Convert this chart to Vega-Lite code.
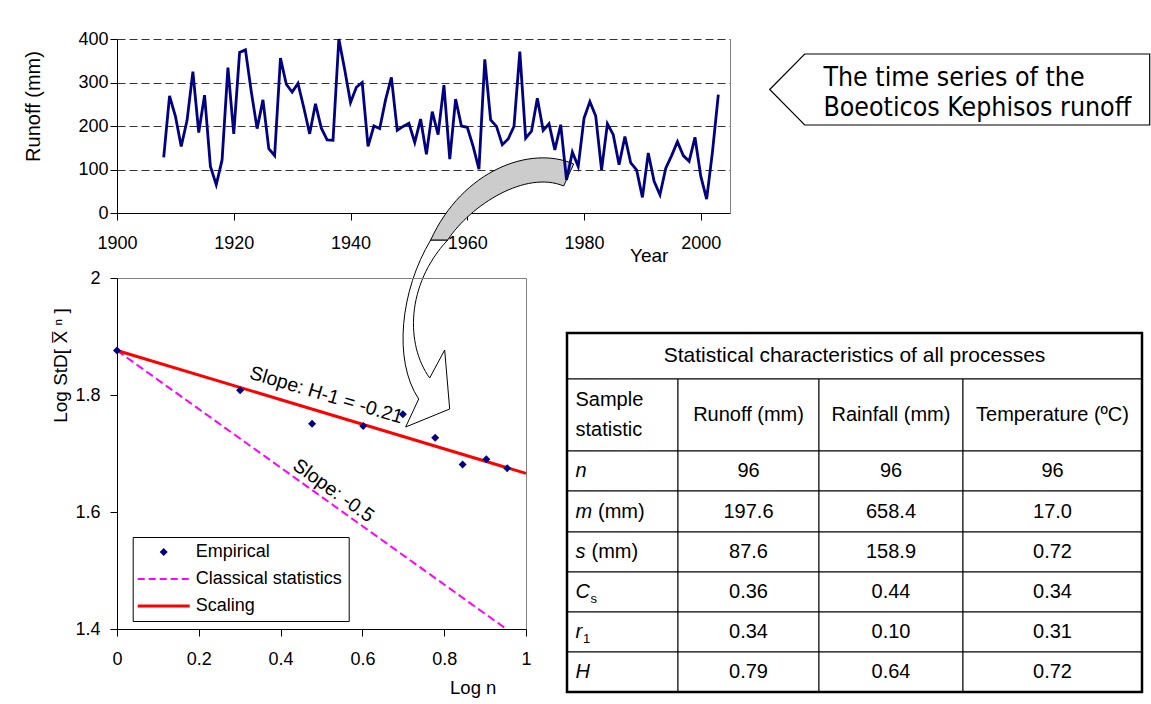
{
  "$schema": "https://vega.github.io/schema/vega-lite/v6.json",
  "background": "white",
  "padding": {"left": 23, "top": 30, "right": 2, "bottom": 2},
  "columns": 2,
  "spacing": {"row": 65, "column": 41},
  "bounds": "flush",
  "align": "none",
  "resolve": {"scale": {"color": "independent"}, "legend": {"color": "independent"}},
  "config": {
    "font": "Liberation Sans",
    "view": {"stroke": null},
    "axis": {"labelFont": "Liberation Sans", "titleFont": "Liberation Sans", "labelFontSize": 18, "titleFontSize": 19, "titleFontWeight": "normal", "labelColor": "#000", "titleColor": "#000", "domainColor": "#000", "tickColor": "#000", "tickSize": 7, "grid": false, "labelOverlap": false, "labelFlush": false},
    "text": {"font": "Liberation Sans", "color": "#000"}
  },
  "concat": [
    {
      "width": 613, "height": 174,
      "view": {"stroke": null},
      "resolve": {"axis": {"y": "independent"}},
      "layer": [
        {
          "data": {"values": [{}]},
          "mark": {"type": "point", "shape": "M-36.6,27C-66.6,77,-74.6,147,-48.6,186L-61.6,214L-17.6,196L-22.6,137L-37.6,165C-61.6,132,-61.6,72,-19.6,27Z", "size": 4, "filled": true, "fill": "#ffffff", "stroke": "#000000", "strokeWidth": 1, "opacity": 1},
          "encoding": {
            "x": {"datum": 1960, "type": "quantitative", "title": "Year"},
            "y": {"datum": 0, "type": "quantitative", "axis": null}
          }
        },
        {
          "data": {"values": [{}]},
          "mark": {"type": "point", "shape": "M106.4,-49C63.4,-68,-4.6,-43,-36.6,27L-19.6,27C3.4,-8,58.4,-43,96.4,-27Z", "size": 4, "filled": true, "fill": "#cccccc", "stroke": "#000000", "strokeWidth": 1, "opacity": 1},
          "encoding": {
            "x": {"datum": 1960, "type": "quantitative", "title": "Year"},
            "y": {"datum": 0, "type": "quantitative", "axis": {"orient": "right", "labels": false, "ticks": false, "grid": false, "domainColor": "#808080", "title": null}}
          }
        },
        {
          "data": {"values": [
            {"year": 1908, "runoff": 128}, {"year": 1909, "runoff": 269}, {"year": 1910, "runoff": 223}, {"year": 1911, "runoff": 153}, {"year": 1912, "runoff": 213},
            {"year": 1913, "runoff": 325}, {"year": 1914, "runoff": 185}, {"year": 1915, "runoff": 271}, {"year": 1916, "runoff": 107}, {"year": 1917, "runoff": 65},
            {"year": 1918, "runoff": 122}, {"year": 1919, "runoff": 334}, {"year": 1920, "runoff": 182}, {"year": 1921, "runoff": 369}, {"year": 1922, "runoff": 375},
            {"year": 1923, "runoff": 279}, {"year": 1924, "runoff": 194}, {"year": 1925, "runoff": 260}, {"year": 1926, "runoff": 148}, {"year": 1927, "runoff": 132},
            {"year": 1928, "runoff": 356}, {"year": 1929, "runoff": 296}, {"year": 1930, "runoff": 278}, {"year": 1931, "runoff": 298}, {"year": 1932, "runoff": 242},
            {"year": 1933, "runoff": 182}, {"year": 1934, "runoff": 251}, {"year": 1935, "runoff": 195}, {"year": 1936, "runoff": 168}, {"year": 1937, "runoff": 167},
            {"year": 1938, "runoff": 400}, {"year": 1939, "runoff": 330}, {"year": 1940, "runoff": 254}, {"year": 1941, "runoff": 289}, {"year": 1942, "runoff": 300},
            {"year": 1943, "runoff": 153}, {"year": 1944, "runoff": 200}, {"year": 1945, "runoff": 194}, {"year": 1946, "runoff": 260}, {"year": 1947, "runoff": 312},
            {"year": 1948, "runoff": 190}, {"year": 1949, "runoff": 199}, {"year": 1950, "runoff": 206}, {"year": 1951, "runoff": 162}, {"year": 1952, "runoff": 216},
            {"year": 1953, "runoff": 135}, {"year": 1954, "runoff": 233}, {"year": 1955, "runoff": 180}, {"year": 1956, "runoff": 294}, {"year": 1957, "runoff": 124},
            {"year": 1958, "runoff": 262}, {"year": 1959, "runoff": 200}, {"year": 1960, "runoff": 197}, {"year": 1961, "runoff": 153}, {"year": 1962, "runoff": 101},
            {"year": 1963, "runoff": 353}, {"year": 1964, "runoff": 214}, {"year": 1965, "runoff": 199}, {"year": 1966, "runoff": 157}, {"year": 1967, "runoff": 170},
            {"year": 1968, "runoff": 199}, {"year": 1969, "runoff": 371}, {"year": 1970, "runoff": 172}, {"year": 1971, "runoff": 188}, {"year": 1972, "runoff": 264},
            {"year": 1973, "runoff": 190}, {"year": 1974, "runoff": 205}, {"year": 1975, "runoff": 145}, {"year": 1976, "runoff": 203}, {"year": 1977, "runoff": 76},
            {"year": 1978, "runoff": 140}, {"year": 1979, "runoff": 107}, {"year": 1980, "runoff": 218}, {"year": 1981, "runoff": 256}, {"year": 1982, "runoff": 223},
            {"year": 1983, "runoff": 99}, {"year": 1984, "runoff": 205}, {"year": 1985, "runoff": 180}, {"year": 1986, "runoff": 111}, {"year": 1987, "runoff": 176},
            {"year": 1988, "runoff": 115}, {"year": 1989, "runoff": 99}, {"year": 1990, "runoff": 36}, {"year": 1991, "runoff": 138}, {"year": 1992, "runoff": 73},
            {"year": 1993, "runoff": 42}, {"year": 1994, "runoff": 103}, {"year": 1995, "runoff": 132}, {"year": 1996, "runoff": 164}, {"year": 1997, "runoff": 132},
            {"year": 1998, "runoff": 119}, {"year": 1999, "runoff": 174}, {"year": 2000, "runoff": 84}, {"year": 2001, "runoff": 32}, {"year": 2002, "runoff": 141},
            {"year": 2003, "runoff": 272}
          ]},
          "mark": {"type": "line", "color": "#000080", "strokeWidth": 2.8},
          "encoding": {
            "x": {"field": "year", "type": "quantitative", "title": "Year", "scale": {"domain": [1900, 2005], "nice": false, "zero": false},
                  "axis": {"values": [1900, 1920, 1940, 1960, 1980, 2000], "format": "d", "labelPadding": 14, "titleX": 531.7, "titleY": 42.7, "titleAlign": "center", "titleBaseline": "middle"}},
            "y": {"field": "runoff", "type": "quantitative", "title": "Runoff (mm)", "scale": {"domain": [0, 400], "nice": false},
                  "axis": {"values": [0, 100, 200, 300, 400], "grid": true, "gridDash": [8, 4], "gridColor": "#333333", "labelPadding": 2, "titleX": -83.8, "titleY": 67, "titleAlign": "center", "titleBaseline": "middle", "titleFontSize": 20}}
          }
        }
      ]
    },
    {
      "width": 381, "height": 174,
      "view": {"stroke": null},
      "data": {"values": [{}]},
      "layer": [
        {
          "mark": {"type": "point", "shape": "M-190,0L-155,-35.5L190,-35.5L190,35.5L-155,35.5Z", "size": 4, "filled": true, "fill": "#ffffff", "stroke": "#000000", "strokeWidth": 1.2, "opacity": 1},
          "encoding": {
            "x": {"datum": 0.4953, "type": "quantitative", "scale": {"domain": [0, 1]}, "axis": null},
            "y": {"datum": 0.7098, "type": "quantitative", "scale": {"domain": [0, 1]}, "axis": null}
          }
        },
        {
          "mark": {"type": "text", "align": "left", "baseline": "alphabetic", "fontSize": 26.5, "font": "DejaVu Sans Condensed", "lineHeight": 30.5, "color": "#000"},
          "encoding": {
            "x": {"datum": 0.1375, "type": "quantitative", "scale": {"domain": [0, 1]}, "axis": null},
            "y": {"datum": 0.7316, "type": "quantitative", "scale": {"domain": [0, 1]}, "axis": null},
            "text": {"value": ["The time series of the", "Boeoticos Kephisos runoff"]}
          }
        }
      ]
    },
    {
      "width": 409, "height": 351,
      "view": {"stroke": "#808080"},
      "layer": [
        {
          "data": {"values": [
            {"series": "Classical statistics", "logn": 0, "std": 1.876},
            {"series": "Classical statistics", "logn": 0.952, "std": 1.4}
          ]},
          "mark": {"type": "line", "strokeWidth": 2, "strokeDash": [8, 4]},
          "encoding": {
            "x": {"field": "logn", "type": "quantitative", "title": "Log n", "scale": {"domain": [0, 1], "nice": false, "zero": false},
                  "axis": {"values": [0, 0.2, 0.4, 0.6, 0.8, 1], "format": "~g", "labelPadding": 14, "titleX": 355.7, "titleY": 58, "titleAlign": "center", "titleBaseline": "middle", "titleFontSize": 18.5}},
            "y": {"field": "std", "type": "quantitative", "title": "Log StD[ X\u0305 \u207f ]", "scale": {"domain": [1.4, 2], "nice": false, "zero": false},
                  "axis": {"values": [1.4, 1.6, 1.8, 2], "format": "~g", "labelPadding": 10, "titleX": -56.3, "titleY": 87, "titleAlign": "center", "titleBaseline": "middle"}},
            "color": {"field": "series", "type": "nominal",
                      "scale": {"domain": ["Empirical", "Classical statistics", "Scaling"], "range": ["#000080", "#FF00FF", "#FF0000"]},
                      "legend": {
                        "orient": "none", "legendX": 15.7, "legendY": 259, "title": null, "padding": 6,
                        "strokeColor": "#000000", "fillColor": "#ffffff",
                        "labelFont": "Liberation Sans", "labelFontSize": 18, "labelColor": "#000000", "labelLimit": 300,
                        "symbolSize": 64, "symbolOffset": 16, "labelOffset": 23, "rowPadding": 9,
                        "encode": {"symbols": {"update": {
                          "shape": {"signal": "datum.value === 'Empirical' ? 'diamond' : 'M-6.5,0L6.5,0'"},
                          "fill": {"signal": "datum.value === 'Empirical' ? '#000080' : 'transparent'"},
                          "stroke": {"signal": "datum.value === 'Empirical' ? '#000080' : (datum.value === 'Scaling' ? '#FF0000' : '#FF00FF')"},
                          "strokeWidth": {"signal": "datum.value === 'Empirical' ? 0 : (datum.value === 'Scaling' ? 3 : 2)"},
                          "strokeDash": {"signal": "datum.value === 'Classical statistics' ? [7, 4] : [1, 0]"},
                          "opacity": {"value": 1}
                        }}}
                      }}
          }
        },
        {
          "data": {"values": [
            {"series": "Scaling", "logn": 0, "std": 1.876},
            {"series": "Scaling", "logn": 1, "std": 1.666}
          ]},
          "mark": {"type": "line", "strokeWidth": 3},
          "encoding": {
            "x": {"field": "logn", "type": "quantitative", "title": "Log n"},
            "y": {"field": "std", "type": "quantitative", "title": "Log StD[ X\u0305 \u207f ]"},
            "color": {"field": "series", "type": "nominal"}
          }
        },
        {
          "data": {"values": [
            {"series": "Empirical", "logn": 0, "std": 1.876},
            {"series": "Empirical", "logn": 0.301, "std": 1.808},
            {"series": "Empirical", "logn": 0.477, "std": 1.751},
            {"series": "Empirical", "logn": 0.602, "std": 1.747},
            {"series": "Empirical", "logn": 0.699, "std": 1.767},
            {"series": "Empirical", "logn": 0.778, "std": 1.727},
            {"series": "Empirical", "logn": 0.845, "std": 1.681},
            {"series": "Empirical", "logn": 0.903, "std": 1.69},
            {"series": "Empirical", "logn": 0.954, "std": 1.675}
          ]},
          "mark": {"type": "point", "shape": "diamond", "filled": true, "size": 64, "opacity": 1},
          "encoding": {
            "x": {"field": "logn", "type": "quantitative", "title": "Log n"},
            "y": {"field": "std", "type": "quantitative", "title": "Log StD[ X\u0305 \u207f ]"},
            "color": {"field": "series", "type": "nominal"}
          }
        },
        {
          "data": {"values": [{}]},
          "mark": {"type": "text", "angle": 16.6, "dy": -17, "fontSize": 19.5, "align": "center", "baseline": "middle", "color": "#000"},
          "encoding": {
            "x": {"datum": 0.5, "type": "quantitative", "title": "Log n"},
            "y": {"datum": 1.7718, "type": "quantitative", "title": "Log StD[ X\u0305 \u207f ]"},
            "text": {"value": "Slope: H-1 = -0.21"}
          }
        },
        {
          "data": {"values": [{}]},
          "mark": {"type": "text", "angle": 35.7, "dy": -12, "fontSize": 19.5, "align": "center", "baseline": "middle", "color": "#000"},
          "encoding": {
            "x": {"datum": 0.512, "type": "quantitative", "title": "Log n"},
            "y": {"datum": 1.6196, "type": "quantitative", "title": "Log StD[ X\u0305 \u207f ]"},
            "text": {"value": "Slope: -0.5"}
          }
        }
      ]
    },
    {
      "width": 371, "height": 414,
      "view": {"stroke": null},
      "data": {"values": [
        {"r": 0, "c": 0, "t": "Statistical characteristics of all processes"},
        {"r": 1, "c": 0, "t": "Sample\nstatistic"},
        {"r": 1, "c": 1, "t": "Runoff (mm)"},
        {"r": 1, "c": 2, "t": "Rainfall (mm)"},
        {"r": 1, "c": 3, "t": "Temperature (ºC)"},
        {"r": 2, "c": 0, "t": "n"}, {"r": 2, "c": 1, "t": "96"}, {"r": 2, "c": 2, "t": "96"}, {"r": 2, "c": 3, "t": "96"},
        {"r": 3, "c": 0, "t": "m", "u": "(mm)"}, {"r": 3, "c": 1, "t": "197.6"}, {"r": 3, "c": 2, "t": "658.4"}, {"r": 3, "c": 3, "t": "17.0"},
        {"r": 4, "c": 0, "t": "s", "u": "(mm)"}, {"r": 4, "c": 1, "t": "87.6"}, {"r": 4, "c": 2, "t": "158.9"}, {"r": 4, "c": 3, "t": "0.72"},
        {"r": 5, "c": 0, "t": "C", "sub": "s"}, {"r": 5, "c": 1, "t": "0.36"}, {"r": 5, "c": 2, "t": "0.44"}, {"r": 5, "c": 3, "t": "0.34"},
        {"r": 6, "c": 0, "t": "r", "sub": "1"}, {"r": 6, "c": 1, "t": "0.34"}, {"r": 6, "c": 2, "t": "0.10"}, {"r": 6, "c": 3, "t": "0.31"},
        {"r": 7, "c": 0, "t": "H"}, {"r": 7, "c": 1, "t": "0.79"}, {"r": 7, "c": 2, "t": "0.64"}, {"r": 7, "c": 3, "t": "0.72"}
      ]},
      "transform": [
        {"calculate": "datum.r == 0 ? 4 : datum.c + 1", "as": "c2"},
        {"calculate": "(datum.c + datum.c2) / 2", "as": "cm"},
        {"calculate": "datum.r + 1", "as": "r2"},
        {"calculate": "datum.r + 0.5", "as": "rm"}
      ],
      "layer": [
        {
          "mark": {"type": "rect", "fill": "#ffffff", "stroke": "#000000", "strokeWidth": 1},
          "encoding": {
            "x": {"field": "c", "type": "quantitative", "scale": {"domain": [0, 1, 2, 3, 4], "range": [-204, -93, 48, 192, 371], "nice": false, "zero": false}, "axis": null},
            "x2": {"field": "c2"},
            "y": {"field": "r", "type": "quantitative", "scale": {"domain": [0, 1, 2, 3, 4, 5, 6, 7, 8], "range": [55, 101, 173, 213, 254, 294, 334, 374, 414], "nice": false, "zero": false}, "axis": null},
            "y2": {"field": "r2"}
          }
        },
        {
          "transform": [{"filter": "datum.r == 0"}],
          "mark": {"type": "rect", "fill": "transparent", "stroke": "#000000", "strokeWidth": 2.5},
          "encoding": {
            "x": {"datum": 0, "type": "quantitative"},
            "x2": {"datum": 4},
            "y": {"datum": 0, "type": "quantitative"},
            "y2": {"datum": 8}
          }
        },
        {
          "transform": [{"filter": "datum.r == 0"}],
          "mark": {"type": "text", "fontSize": 21, "align": "center", "baseline": "middle", "dx": 35.5},
          "encoding": {
            "x": {"field": "cm", "type": "quantitative"},
            "y": {"field": "rm", "type": "quantitative"},
            "text": {"field": "t", "type": "nominal"}
          }
        },
        {
          "transform": [{"filter": "datum.c >= 1"}],
          "mark": {"type": "text", "fontSize": 20, "align": "center", "baseline": "middle"},
          "encoding": {
            "x": {"field": "cm", "type": "quantitative"},
            "y": {"field": "rm", "type": "quantitative"},
            "text": {"field": "t", "type": "nominal"}
          }
        },
        {
          "transform": [{"filter": "datum.r == 1 && datum.c == 0"}],
          "mark": {"type": "text", "fontSize": 20, "align": "left", "baseline": "middle", "dx": 8.5, "dy": -15, "lineBreak": "\n", "lineHeight": 30},
          "encoding": {
            "x": {"field": "c", "type": "quantitative"},
            "y": {"field": "rm", "type": "quantitative"},
            "text": {"field": "t", "type": "nominal"}
          }
        },
        {
          "transform": [{"filter": "datum.r >= 2 && datum.c == 0"}],
          "mark": {"type": "text", "fontSize": 20, "fontStyle": "italic", "align": "left", "baseline": "middle", "dx": 8.5},
          "encoding": {
            "x": {"field": "c", "type": "quantitative"},
            "y": {"field": "rm", "type": "quantitative"},
            "text": {"field": "t", "type": "nominal"}
          }
        },
        {
          "transform": [{"filter": "datum.r == 3 && datum.c == 0"}],
          "mark": {"type": "text", "fontSize": 20, "align": "left", "baseline": "middle", "dx": 31},
          "encoding": {
            "x": {"field": "c", "type": "quantitative"},
            "y": {"field": "rm", "type": "quantitative"},
            "text": {"field": "u", "type": "nominal"}
          }
        },
        {
          "transform": [{"filter": "datum.r == 4 && datum.c == 0"}],
          "mark": {"type": "text", "fontSize": 20, "align": "left", "baseline": "middle", "dx": 24.5},
          "encoding": {
            "x": {"field": "c", "type": "quantitative"},
            "y": {"field": "rm", "type": "quantitative"},
            "text": {"field": "u", "type": "nominal"}
          }
        },
        {
          "transform": [{"filter": "datum.r == 5 && datum.c == 0"}],
          "mark": {"type": "text", "fontSize": 13, "align": "left", "baseline": "middle", "dx": 23.5, "dy": 7},
          "encoding": {
            "x": {"field": "c", "type": "quantitative"},
            "y": {"field": "rm", "type": "quantitative"},
            "text": {"field": "sub", "type": "nominal"}
          }
        },
        {
          "transform": [{"filter": "datum.r == 6 && datum.c == 0"}],
          "mark": {"type": "text", "fontSize": 13, "align": "left", "baseline": "middle", "dx": 16, "dy": 7},
          "encoding": {
            "x": {"field": "c", "type": "quantitative"},
            "y": {"field": "rm", "type": "quantitative"},
            "text": {"field": "sub", "type": "nominal"}
          }
        }
      ]
    }
  ]
}
